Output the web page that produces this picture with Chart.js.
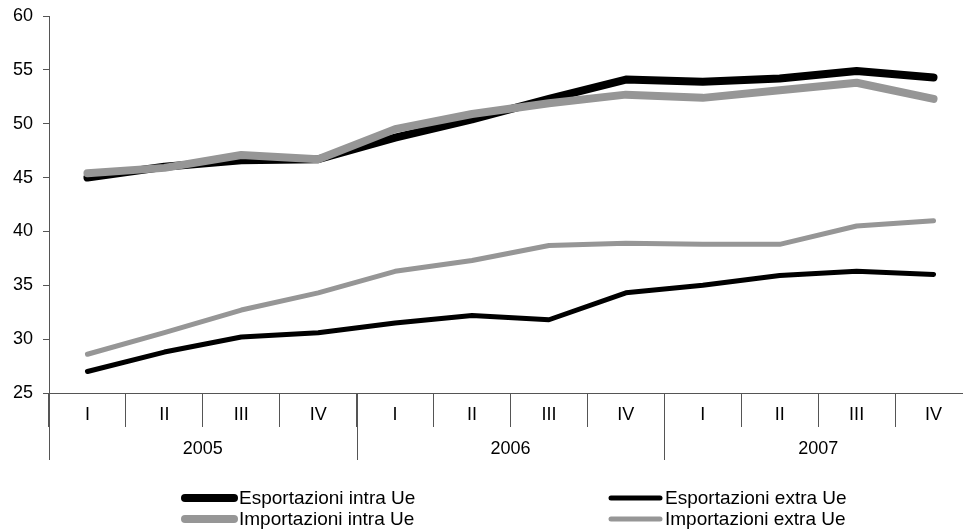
<!DOCTYPE html>
<html>
<head>
<meta charset="utf-8">
<script src="https://cdn.jsdelivr.net/npm/chart.js@4"></script>
<style>
  html, body { margin: 0; padding: 0; background: #fff; overflow: hidden; }
  #wrap { width: 980px; height: 532px; }
</style>
</head>
<body>
<div id="wrap"><canvas id="trade" width="980" height="532"></canvas></div>
<script>
var quarters = ['I', 'II', 'III', 'IV', 'I', 'II', 'III', 'IV', 'I', 'II', 'III', 'IV'];
var years = ['2005', '2006', '2007'];

var espIntra = [45.0, 46.0, 46.6, 46.7, 48.7, 50.4, 52.3, 54.1, 53.9, 54.2, 54.9, 54.3];
var impIntra = [45.4, 45.9, 47.1, 46.7, 49.5, 50.9, 51.9, 52.7, 52.4, 53.1, 53.8, 52.3];
var espExtra = [27.0, 28.8, 30.2, 30.6, 31.5, 32.2, 31.8, 34.3, 35.0, 35.9, 36.3, 36.0];
var impExtra = [28.6, 30.6, 32.7, 34.3, 36.3, 37.3, 38.7, 38.9, 38.8, 38.8, 40.5, 41.0];

var FONT = 'Liberation Sans, Arial, sans-serif';
var AXIS = '#555';
var GREY = '#969696';

// year row under the quarters + long dividers between years
var yearRow = {
    id: 'yearRow',
    afterDraw: function (chart) {
        var c = chart.ctx, x = chart.scales.x, top = chart.chartArea.bottom;
        c.save();
        c.strokeStyle = AXIS;
        c.lineWidth = 1;
        for (var k = 0; k < years.length; k++) {
            var px = Math.round(x.getPixelForValue(k * 4 - 0.5)) + 0.5;
            c.beginPath();
            c.moveTo(px, top);
            c.lineTo(px, top + 67);
            c.stroke();
        }
        c.fillStyle = '#000';
        c.font = '18px ' + FONT;
        c.textAlign = 'center';
        c.textBaseline = 'middle';
        for (var k = 0; k < years.length; k++) {
            c.fillText(years[k], x.getPixelForValue(k * 4 + 1.5), top + 56);
        }
        c.restore();
    }
};

// two-column legend below the axis
var legendBox = {
    id: 'legendBox',
    afterDraw: function (chart) {
        var c = chart.ctx;
        var slots = {
            'Esportazioni intra Ue': [181, 498],
            'Importazioni intra Ue': [181, 519],
            'Esportazioni extra Ue': [607, 498],
            'Importazioni extra Ue': [607, 519]
        };
        c.save();
        c.font = '19px ' + FONT;
        c.textBaseline = 'middle';
        chart.data.datasets.forEach(function (ds) {
            var p = slots[ds.label];
            c.strokeStyle = ds.borderColor;
            c.lineWidth = ds.borderWidth;
            c.lineCap = 'round';
            c.beginPath();
            c.moveTo(p[0] + 4, p[1]);
            c.lineTo(p[0] + 53, p[1]);
            c.stroke();
            c.fillStyle = '#000';
            c.fillText(ds.label, p[0] + 58, p[1] + 1);
        });
        c.restore();
    }
};

new Chart(document.getElementById('trade'), {
    type: 'line',
    data: {
        labels: quarters,
        datasets: [{
            label: 'Importazioni intra Ue',
            data: impIntra,
            borderColor: GREY,
            borderWidth: 8
        }, {
            label: 'Esportazioni intra Ue',
            data: espIntra,
            borderColor: '#000',
            borderWidth: 8
        }, {
            label: 'Esportazioni extra Ue',
            data: espExtra,
            borderColor: '#000',
            borderWidth: 5
        }, {
            label: 'Importazioni extra Ue',
            data: impExtra,
            borderColor: GREY,
            borderWidth: 5
        }]
    },
    options: {
        responsive: false,
        animation: false,
        devicePixelRatio: 1,
        layout: { padding: { top: 16, right: 8, left: 0, bottom: 0 } },
        elements: {
            point: { radius: 0 },
            line: { tension: 0, borderCapStyle: 'round', borderJoinStyle: 'round' }
        },
        plugins: {
            legend: { display: false },
            tooltip: { enabled: false }
        },
        scales: {
            x: {
                offset: true,
                afterFit: function (s) { s.height = 139; s.paddingLeft = 0; s.paddingRight = 0; },
                grid: {
                    offset: true,
                    drawOnChartArea: false,
                    tickLength: 34,
                    color: AXIS
                },
                border: { color: AXIS },
                ticks: {
                    color: '#000',
                    font: { family: FONT, size: 18 },
                    padding: -23,
                    maxRotation: 0,
                    autoSkip: false
                }
            },
            y: {
                min: 25,
                max: 60,
                afterFit: function (s) { s.width = 49; s.paddingTop = 0; s.paddingBottom = 0; },
                grid: {
                    drawOnChartArea: false,
                    tickLength: 6,
                    color: AXIS
                },
                border: { color: AXIS },
                ticks: {
                    stepSize: 5,
                    color: '#000',
                    padding: 10,
                    font: { family: FONT, size: 18 }
                }
            }
        }
    },
    plugins: [yearRow, legendBox]
});
</script>
</body>
</html>
